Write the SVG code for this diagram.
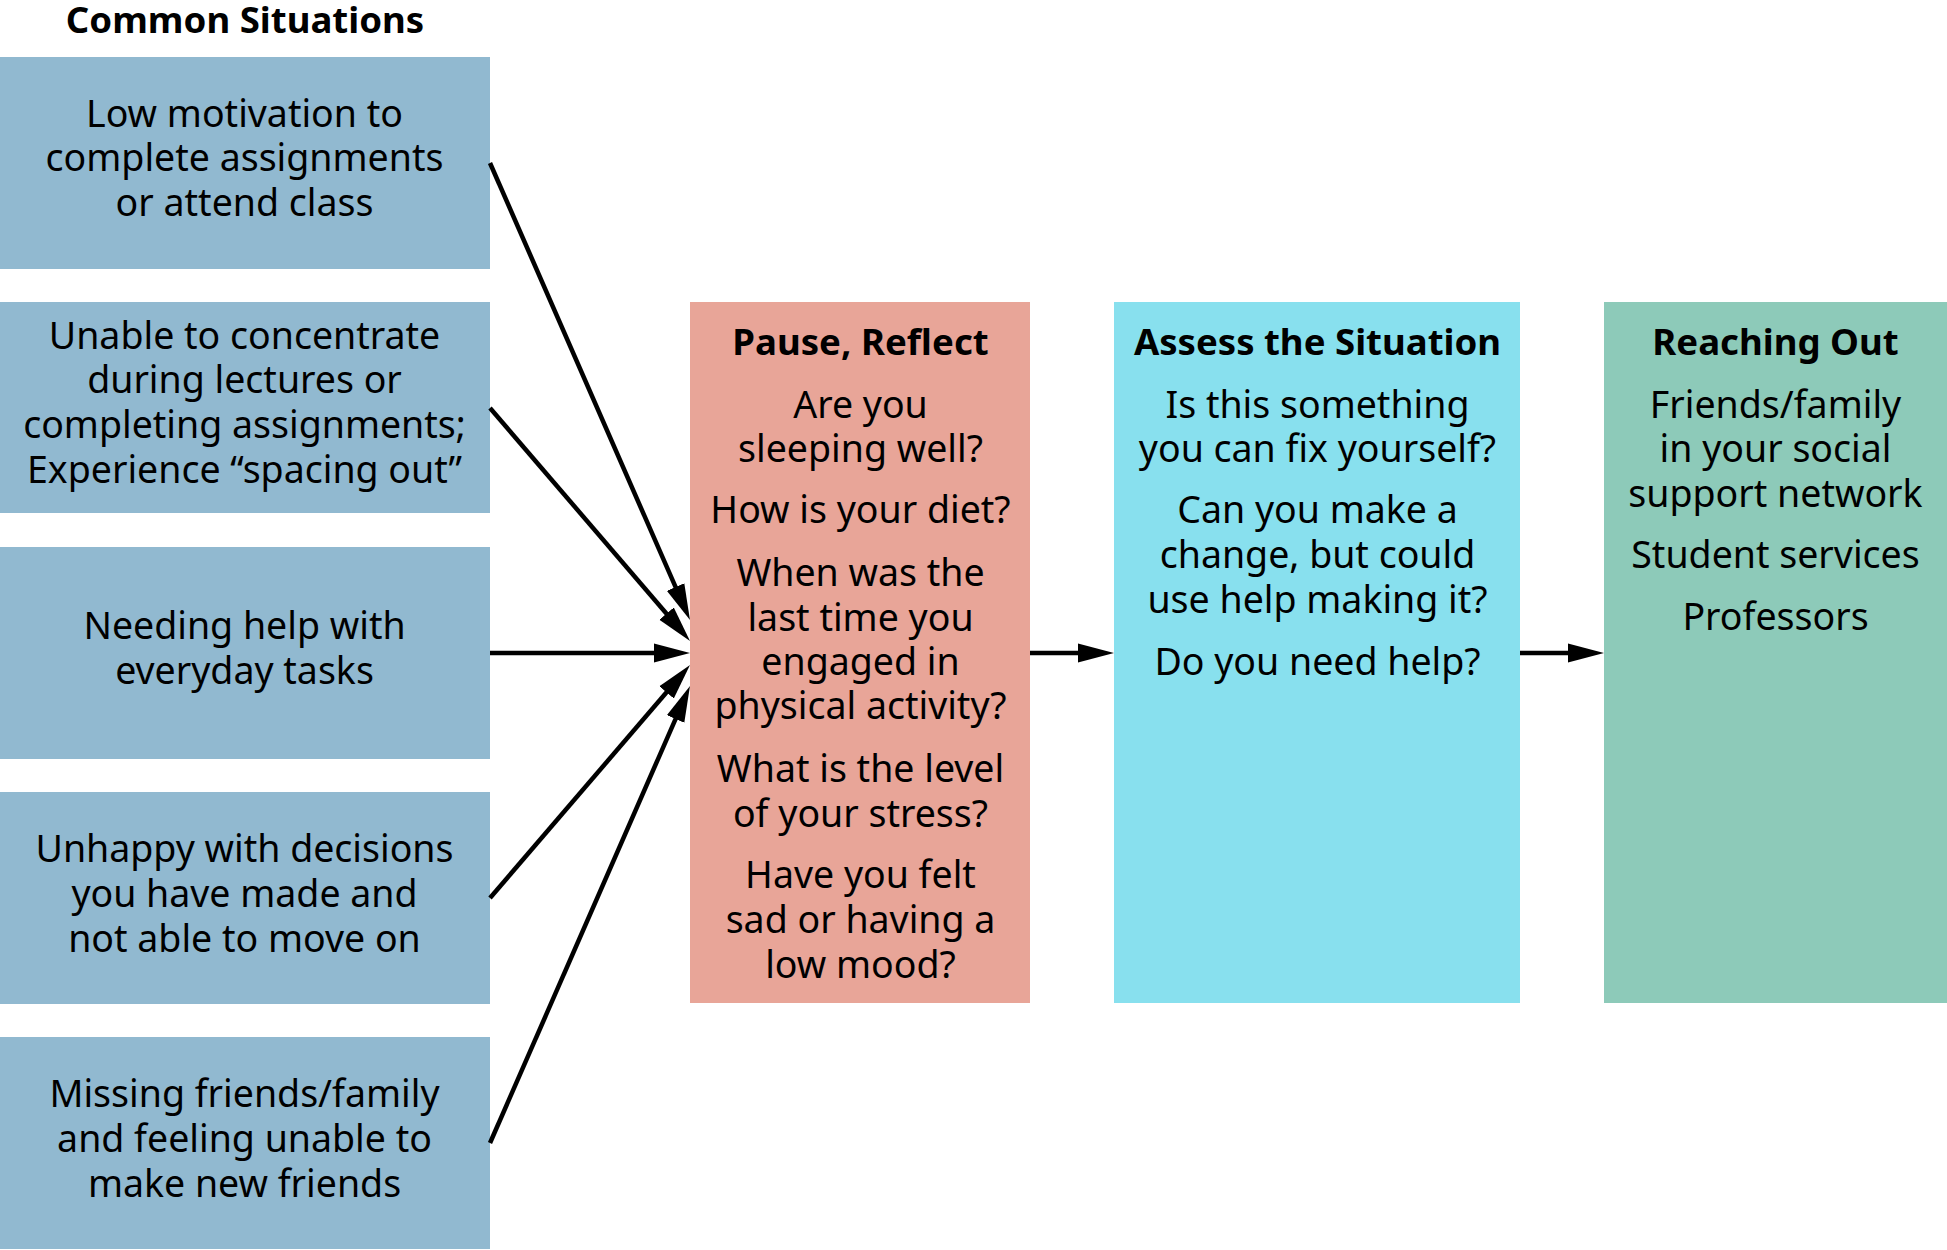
<svg xmlns="http://www.w3.org/2000/svg" width="1947" height="1250" viewBox="0 0 1947 1250">
  <style>
    text { font-family: "Noto Sans", "Open Sans", "Liberation Sans", sans-serif; font-size: 37.5px; fill: #000; text-anchor: middle; }
    .head { font-weight: bold; font-size: 36.6px; }
    .situation { fill: #91B9D0; }
    .reflect { fill: #E8A598; }
    .assess { fill: #88E0EE; }
    .reach { fill: #8DCAB9; }
    .link { stroke: #000; stroke-width: 4.5; fill: none; marker-end: url(#arrow); }
  </style>
  <defs>
    <marker id="arrow" markerUnits="userSpaceOnUse" markerWidth="36" markerHeight="20" refX="4" refY="10" orient="auto">
      <path d="M0,0.5 L36,10 L0,19.5 Z" fill="#000"/>
    </marker>
  </defs>

  <rect width="1947" height="1250" fill="#fff"/>

  <text class="head" x="245" y="32.8">Common Situations</text>

  <!-- situation boxes -->
  <g id="situation-motivation">
    <rect class="situation" x="0" y="57" width="490" height="212"/>
    <text x="244.5" y="126.7">Low motivation to</text>
    <text x="244.5" y="171.4">complete assignments</text>
    <text x="244.5" y="216.1">or attend class</text>
  </g>
  <g id="situation-concentrate">
    <rect class="situation" x="0" y="302" width="490" height="211"/>
    <text x="244.5" y="348.5">Unable to concentrate</text>
    <text x="244.5" y="393.2">during lectures or</text>
    <text x="244.5" y="437.9">completing assignments;</text>
    <text x="244.5" y="482.6">Experience “spacing out”</text>
  </g>
  <g id="situation-tasks">
    <rect class="situation" x="0" y="547" width="490" height="212"/>
    <text x="244.5" y="639.1">Needing help with</text>
    <text x="244.5" y="683.8">everyday tasks</text>
  </g>
  <g id="situation-decisions">
    <rect class="situation" x="0" y="792" width="490" height="212"/>
    <text x="244.5" y="862.2">Unhappy with decisions</text>
    <text x="244.5" y="906.9">you have made and</text>
    <text x="244.5" y="951.6">not able to move on</text>
  </g>
  <g id="situation-friends">
    <rect class="situation" x="0" y="1037" width="490" height="212"/>
    <text x="244.5" y="1107.2">Missing friends/family</text>
    <text x="244.5" y="1151.9">and feeling unable to</text>
    <text x="244.5" y="1196.6">make new friends</text>
  </g>

  <!-- stage columns -->
  <g id="pause-reflect">
    <rect class="reflect" x="690" y="302" width="340" height="701"/>
    <text class="head" x="860.5" y="355">Pause, Reflect</text>
    <text x="860.5" y="417.5">Are you</text>
    <text x="860.5" y="462.2">sleeping well?</text>
    <text x="860.5" y="522.7">How is your diet?</text>
    <text x="860.5" y="586">When was the</text>
    <text x="860.5" y="630.5">last time you</text>
    <text x="860.5" y="675">engaged in</text>
    <text x="860.5" y="719.4">physical activity?</text>
    <text x="860.5" y="782.3">What is the level</text>
    <text x="860.5" y="827">of your stress?</text>
    <text x="860.5" y="887.8">Have you felt</text>
    <text x="860.5" y="932.7">sad or having a</text>
    <text x="860.5" y="977.6">low mood?</text>
  </g>
  <g id="assess-situation">
    <rect class="assess" x="1114" y="302" width="406" height="701"/>
    <text class="head" x="1317.5" y="355">Assess the Situation</text>
    <text x="1317.5" y="417.5">Is this something</text>
    <text x="1317.5" y="462.2">you can fix yourself?</text>
    <text x="1317.5" y="523">Can you make a</text>
    <text x="1317.5" y="567.8">change, but could</text>
    <text x="1317.5" y="612.6">use help making it?</text>
    <text x="1317.5" y="674.5">Do you need help?</text>
  </g>
  <g id="reaching-out">
    <rect class="reach" x="1604" y="302" width="343" height="701"/>
    <text class="head" x="1775.5" y="355">Reaching Out</text>
    <text x="1775.5" y="417.5">Friends/family</text>
    <text x="1775.5" y="462.2">in your social</text>
    <text x="1775.5" y="506.9">support network</text>
    <text x="1775.5" y="568.3">Student services</text>
    <text x="1775.5" y="630.3">Professors</text>
  </g>

  <!-- connectors -->
  <g id="connectors">
    <line class="link" x1="490" y1="163" x2="677.17" y2="590.68"/>
    <line class="link" x1="490" y1="408" x2="669.16" y2="616.72"/>
    <line class="link" x1="490" y1="653" x2="658" y2="653"/>
    <line class="link" x1="490" y1="898" x2="669.16" y2="689.28"/>
    <line class="link" x1="490" y1="1143" x2="677.17" y2="715.32"/>
    <line class="link" x1="1030" y1="653" x2="1082" y2="653"/>
    <line class="link" x1="1520" y1="653" x2="1572" y2="653"/>
  </g>
</svg>
